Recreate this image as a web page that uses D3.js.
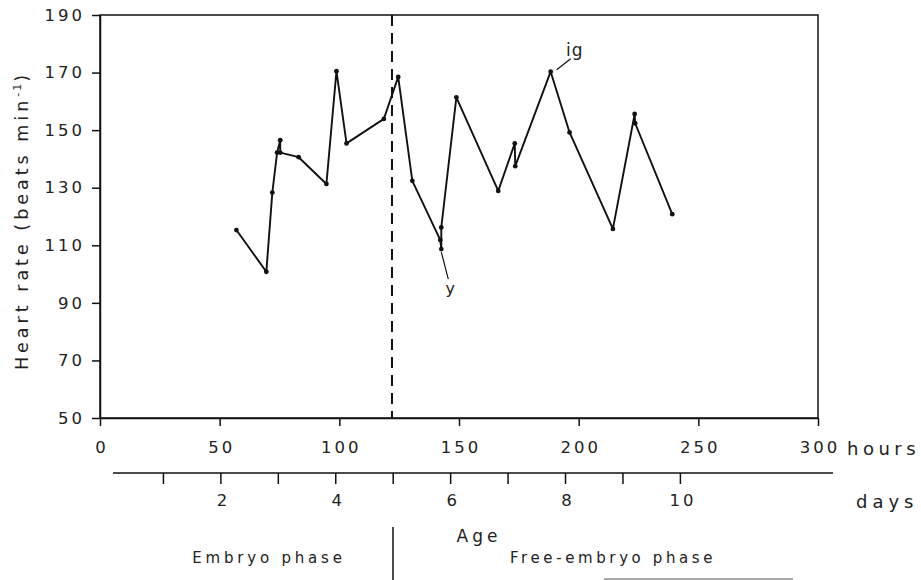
<!DOCTYPE html>
<html>
<head>
<meta charset="utf-8">
<script src="https://cdn.jsdelivr.net/npm/d3@7"></script>
<style>
  body { margin: 0; background: #fff; }
  text { font-family: "DejaVu Sans", "Liberation Sans", sans-serif; fill: #222; }
</style>
</head>
<body>
<div id="chart"></div>
<script>
// Heart rate readings: age in hours and beats per minute
const ageHours = [57, 69.5, 72, 74, 75.3, 75.3, 83, 94.6, 98.8, 103, 118.6, 124.6, 130.5,
  142.2, 142.6, 142.6, 148.9, 166.4, 173.3, 173.5, 188.3, 196.2, 214.3, 223.4, 223.6, 239.1];
const heartRate = [115.3, 100.8, 128.3, 142.2, 146.5, 142.2, 140.6, 131.3, 170.5, 145.4, 153.9, 168.5, 132.4,
  111.8, 108.7, 116.2, 161.4, 128.9, 145.4, 137.5, 170.3, 149.2, 115.7, 155.6, 152.4, 120.8];

const hourTicks = [0, 50, 100, 150, 200, 250, 300];
const rateTicks = [50, 70, 90, 110, 130, 150, 170, 190];
const dayTicks = [1, 2, 3, 4, 5, 6, 7, 8, 9, 10];
const dayLabels = [2, 4, 6, 8, 10];
const phaseBoundary = 122; // hours

const width = 921;
const height = 580;

const svg = d3
  .select("#chart")
  .append("svg")
  .attr("width", width)
  .attr("height", height);

// Scales
const x = d3.scaleLinear().domain([0, 300]).range([100, 818]);
const y = d3.scaleLinear().domain([50, 190]).range([418, 15]);

// Frame
svg
  .append("rect")
  .attr("x", x(0))
  .attr("y", y(190))
  .attr("width", x(300) - x(0))
  .attr("height", y(50) - y(190))
  .attr("fill", "none")
  .attr("stroke", "#111")
  .attr("stroke-width", 1.5);

// Y axis
const yAxis = svg
  .append("g")
  .attr("transform", `translate(${x(0)}, 0)`)
  .call(d3.axisLeft(y).tickValues(rateTicks).tickSize(8).tickPadding(7).tickSizeOuter(0));
yAxis
  .selectAll("text")
  .style("font-size", "16.5px")
  .style("letter-spacing", "3px")
  .style("fill", "#222");

// X axis (hours)
const xAxis = svg
  .append("g")
  .attr("transform", `translate(0, ${y(50)})`)
  .call(d3.axisBottom(x).tickValues(hourTicks).tickSize(8).tickPadding(15).tickSizeOuter(0));
xAxis
  .selectAll("text")
  .attr("dx", 1.5)
  .style("font-size", "16.5px")
  .style("letter-spacing", "3px")
  .style("fill", "#222");
svg.selectAll("path.domain, g.tick line").style("stroke", "#111").style("stroke-width", 1.5);

svg
  .append("text")
  .attr("x", 847)
  .attr("y", 455)
  .style("font-size", "18px")
  .style("letter-spacing", "4.5px")
  .text("hours");

// Days axis (hand-drawn below, slightly offset)
const dayOffset = 6;
const dayX = (d) => x(d * 24) + dayOffset;
const daysY = 473;
svg
  .append("line")
  .attr("x1", 113)
  .attr("x2", 833)
  .attr("y1", daysY)
  .attr("y2", daysY)
  .attr("stroke", "#111")
  .attr("stroke-width", 1.5);
svg
  .selectAll("line.day-tick")
  .data(dayTicks)
  .enter()
  .append("line")
  .attr("class", "day-tick")
  .attr("x1", (d) => dayX(d))
  .attr("x2", (d) => dayX(d))
  .attr("y1", daysY)
  .attr("y2", daysY + 11)
  .attr("stroke", "#111")
  .attr("stroke-width", 1.5);
svg
  .selectAll("text.day-label")
  .data(dayLabels)
  .enter()
  .append("text")
  .attr("class", "day-label")
  .attr("x", (d) => dayX(d) + 2.5)
  .attr("y", 506)
  .attr("text-anchor", "middle")
  .style("font-size", "16.5px")
  .style("letter-spacing", "3px")
  .text((d) => d);
svg
  .append("text")
  .attr("x", 856)
  .attr("y", 508)
  .style("font-size", "18px")
  .style("letter-spacing", "5px")
  .text("days");

// Y axis title
const yTitle = svg
  .append("text")
  .attr("transform", `translate(28, ${(y(50) + y(190)) / 2 + 4}) rotate(-90)`)
  .attr("text-anchor", "middle")
  .style("font-size", "17.5px")
  .style("letter-spacing", "4px");
yTitle.append("tspan").text("Heart rate (beats min");
yTitle.append("tspan").attr("dy", -7).style("font-size", "11px").style("letter-spacing", "2px").text("-1");
yTitle.append("tspan").attr("dy", 7).text(")");

// Phase boundary (dashed)
svg
  .append("line")
  .attr("x1", x(phaseBoundary))
  .attr("x2", x(phaseBoundary))
  .attr("y1", y(190))
  .attr("y2", y(50))
  .attr("stroke", "#111")
  .attr("stroke-width", 2)
  .attr("stroke-dasharray", "11,7");

// Data line
const points = ageHours.map((h, i) => [h, heartRate[i]]);
svg
  .append("path")
  .datum(points)
  .attr("fill", "none")
  .attr("stroke", "#111")
  .attr("stroke-width", 1.9)
  .attr("stroke-linejoin", "round")
  .attr(
    "d",
    d3
      .line()
      .x((d) => x(d[0]))
      .y((d) => y(d[1]))
  );
svg
  .selectAll("circle")
  .data(points)
  .enter()
  .append("circle")
  .attr("cx", (d) => x(d[0]))
  .attr("cy", (d) => y(d[1]))
  .attr("r", 2.4)
  .attr("fill", "#111");

// Annotations: y (yolk) and ig
const yPt = points[14];
svg
  .append("line")
  .attr("x1", x(yPt[0]))
  .attr("y1", y(yPt[1]) + 3)
  .attr("x2", x(yPt[0]) + 7)
  .attr("y2", y(yPt[1]) + 30)
  .attr("stroke", "#111")
  .attr("stroke-width", 1.2);
svg
  .append("text")
  .attr("x", x(yPt[0]) + 9)
  .attr("y", y(yPt[1]) + 45)
  .attr("text-anchor", "middle")
  .style("font-size", "16px")
  .text("y");

const igPt = points[20];
svg
  .append("line")
  .attr("x1", x(igPt[0]) + 6)
  .attr("y1", y(igPt[1]) - 2)
  .attr("x2", x(igPt[0]) + 20)
  .attr("y2", y(igPt[1]) - 13)
  .attr("stroke", "#111")
  .attr("stroke-width", 1.2);
svg
  .append("text")
  .attr("x", x(igPt[0]) + 24)
  .attr("y", y(igPt[1]) - 16)
  .attr("text-anchor", "middle")
  .style("font-size", "17px")
  .style("letter-spacing", "1px")
  .text("ig");

// Age title and phases
svg
  .append("text")
  .attr("x", 479)
  .attr("y", 542)
  .attr("text-anchor", "middle")
  .style("font-size", "17px")
  .style("letter-spacing", "4px")
  .text("Age");

svg
  .append("line")
  .attr("x1", x(phaseBoundary) + 1)
  .attr("x2", x(phaseBoundary) + 1)
  .attr("y1", 527)
  .attr("y2", 580)
  .attr("stroke", "#111")
  .attr("stroke-width", 1.5);

svg
  .append("text")
  .attr("x", 269)
  .attr("y", 563)
  .attr("text-anchor", "middle")
  .style("font-size", "15px")
  .style("letter-spacing", "3.8px")
  .text("Embryo phase");
svg
  .append("text")
  .attr("x", 613)
  .attr("y", 563)
  .attr("text-anchor", "middle")
  .style("font-size", "15px")
  .style("letter-spacing", "3.6px")
  .text("Free-embryo phase");

svg
  .append("line")
  .attr("x1", 604)
  .attr("x2", 793)
  .attr("y1", 579)
  .attr("y2", 579)
  .attr("stroke", "#555")
  .attr("stroke-width", 1);
</script>
</body>
</html>
